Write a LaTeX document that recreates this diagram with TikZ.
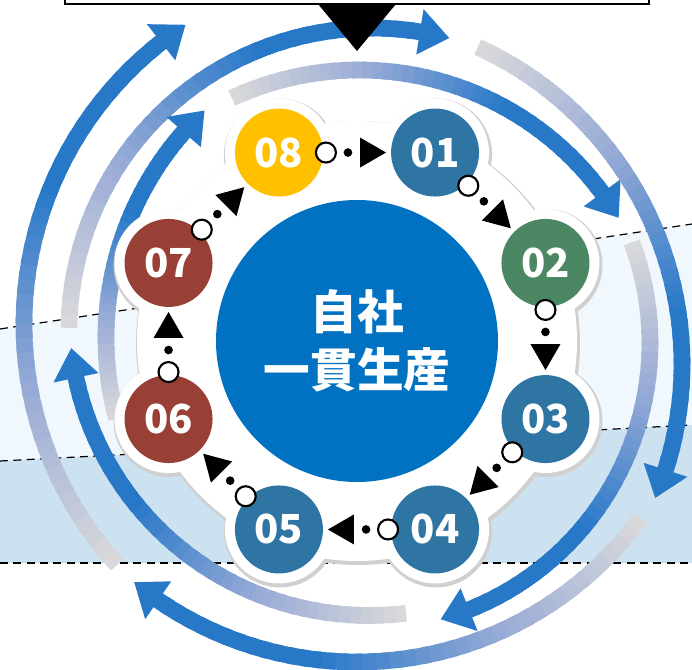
\documentclass[tikz,border=0pt]{standalone}
\usepackage{fontspec}
\newfontfamily\jpfont{Noto Sans CJK JP}
\usetikzlibrary{calc,positioning,shapes.geometric}
\definecolor{arcblue}{RGB}{40,120,200}
\definecolor{arcmid}{RGB}{150,170,214}
\definecolor{arcgray}{RGB}{216,216,218}
\definecolor{nblue}{RGB}{46,117,163}
\definecolor{ngreen}{RGB}{76,135,99}
\definecolor{nred}{RGB}{153,64,54}
\definecolor{ngold}{RGB}{255,192,0}
\definecolor{coreblue}{RGB}{0,114,193}
\definecolor{bandlight}{RGB}{240,247,253}
\definecolor{banddark}{RGB}{205,226,240}
\definecolor{halogray}{RGB}{208,208,208}
\tikzset{
  stepnode/.style={circle, minimum size=66pt, inner sep=0pt, text=white,
    font=\jpfont\bfseries\fontsize{30}{30}\selectfont},
  openend/.style={circle, draw, line width=1.6pt, fill=white, minimum size=15pt, inner sep=0pt},
  middot/.style={circle, fill=black, minimum size=6.5pt, inner sep=0pt},
  tiphead/.style={regular polygon, regular polygon sides=3, shape border rotate=-90,
    fill=black, minimum size=26pt, inner sep=0pt, sloped, allow upside down},
  arcband/.style={line width=12.5pt, line cap=butt},
  dashline/.style={dash pattern=on 6pt off 4pt, line width=0.9pt},
}
% #1,#2 centre, #3 radius, #4 tail angle, #5 angle at the arrow base
\newcommand\gradarc[5]{%
  \foreach \i in {0,...,39}{%
    \pgfmathsetmacro\sega{#4+(#5-#4)*\i/40}%
    \pgfmathsetmacro\segb{#4+(#5-#4)*(\i+1.5)/40}%
    \pgfmathtruncatemacro\pa{min(100,7.5*\i)}%
    \pgfmathtruncatemacro\pb{max(0,min(100,7.5*\i-100))}%
    \draw[arcband, draw=arcblue!\pb!arcmid!\pa!arcgray]
      ([shift={(#1,#2)}]\sega:#3) arc[start angle=\sega, end angle=\segb, radius=#3];
  }%
  \pgfmathsetmacro\tipa{#5+1719/#3}%
  \fill[arcblue] ([shift={(#1,#2)}]#5:{#3-23}) -- ([shift={(#1,#2)}]\tipa:#3)
    -- ([shift={(#1,#2)}]#5:{#3+23}) -- cycle;
}

\begin{document}
\begin{tikzpicture}[x=0.75pt, y=-0.75pt]
  \useasboundingbox (0,0) rectangle (692,670);
  \clip (0,0) rectangle (692,670);
  % background bands
  \fill[bandlight] (0,329) -- (692,224) -- (692,425) -- (0,461) -- cycle;
  \fill[banddark] (0,461) -- (692,425) -- (692,563) -- (0,563) -- cycle;
  \draw[dashline] (0,329) -- (692,224);
  \draw[dashline] (0,461) -- (692,425);
  \draw[dashline] (0,563) -- (692,563);
  % cycle arrows
  \gradarc{382}{324}{358}{137.7}{231.9}
  \gradarc{372}{331}{303}{180.6}{279.1}
  \gradarc{359}{372}{302}{245.1}{323.6}
  \gradarc{334}{364}{348}{294.4}{377.7}
  \gradarc{363}{343}{287}{-20.5}{68.3}
  \gradarc{357}{311}{351}{36.1}{124.5}
  \gradarc{369}{316}{299.5}{82.9}{168.1}
  \gradarc{418}{338}{312}{165}{221.3}
  % white plate
  \coordinate (ctr) at (357,341);
  \fill[halogray] ([shift={(1,2)}]ctr) circle[radius=222];
  \foreach \a in {-67.5,-22.5,...,247.5}
    \fill[halogray] ([shift={(1,2)}]$(ctr)+(\a:204)$) circle[radius=56];
  \fill[white] (ctr) circle[radius=220];
  \foreach \a in {-67.5,-22.5,...,247.5}
    \fill[white] ($(ctr)+(\a:204)$) circle[radius=54];
  % steps
  \node[circle, fill=coreblue, minimum size=211.5pt, text=white, align=center,
    font=\jpfont\bfseries\fontsize{35}{43.5}\selectfont] (core) at (ctr) {自社\\一貫生産};
  \node[stepnode, fill=nblue] (n01) at ($(ctr)+(-67.5:204)$) {01};
  \node[stepnode, fill=ngreen] (n02) at ($(ctr)+(-22.5:204)$) {02};
  \node[stepnode, fill=nblue] (n03) at ($(ctr)+(22.5:204)$) {03};
  \node[stepnode, fill=nblue] (n04) at ($(ctr)+(67.5:204)$) {04};
  \node[stepnode, fill=nblue] (n05) at ($(ctr)+(112.5:204)$) {05};
  \node[stepnode, fill=nred] (n06) at ($(ctr)+(157.5:204)$) {06};
  \node[stepnode, fill=nred] (n07) at ($(ctr)+(202.5:204)$) {07};
  \node[stepnode, fill=ngold] (n08) at ($(ctr)+(247.5:204)$) {08};
  \foreach \s/\t in {n08/n01,n01/n02,n02/n03,n03/n04,n04/n05,n05/n06,n06/n07,n07/n08}
    \path (\s.center) -- node[pos=0.301, openend]{} node[pos=0.442, middot]{}
      node[pos=0.575, tiphead]{} (\t.center);
  % top frame and pointer
  \draw[line width=2pt] (65,-10) rectangle (649,4);
  \fill[black] (318,4) -- (396,4) -- (357,51) -- cycle;
\end{tikzpicture}
\end{document}
